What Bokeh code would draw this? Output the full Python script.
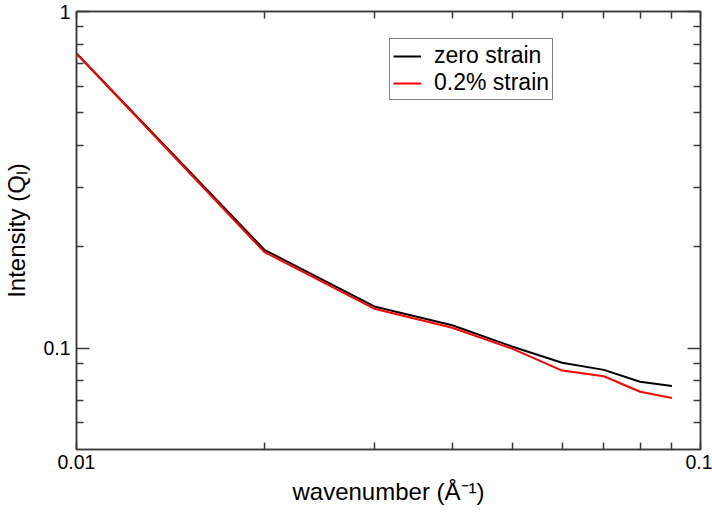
from bokeh.plotting import figure
from bokeh.models import Range1d, LogAxis, FixedTicker, CustomJSTickFormatter
from bokeh.embed import file_html
from bokeh.resources import INLINE

# ---- data ----
wavenumber = [0.01, 0.02, 0.03, 0.04, 0.05, 0.06, 0.07, 0.08, 0.09]
zero_strain = [0.750, 0.196, 0.133, 0.117, 0.101, 0.0905, 0.0862, 0.0795, 0.0772]
strain_0_2 = [0.750, 0.193, 0.131, 0.115, 0.0995, 0.0858, 0.0825, 0.0742, 0.0711]
series_labels = ["zero strain", "0.2% strain"]

x_major_ticks = [0.01, 0.1]
x_minor_ticks = [0.02, 0.03, 0.04, 0.05, 0.06, 0.07, 0.08, 0.09]
y_major_ticks = [0.1, 1.0]
y_minor_ticks = [0.06, 0.07, 0.08, 0.09, 0.2, 0.3, 0.4, 0.5, 0.6, 0.7, 0.8, 0.9]

x_title = "wavenumber (Å⁻¹)"
y_title = "Intensity (Qₗ)"

FONT = "Liberation Sans"
AX = "#3a3a3a"

p = figure(width=712, height=514, x_axis_type="log", y_axis_type="log",
           x_range=Range1d(0.01, 0.1), y_range=Range1d(0.05, 1.0),
           output_backend="svg", toolbar_location=None,
           min_border_left=72, min_border_right=12, min_border_top=11, min_border_bottom=65)
p.xgrid.visible = False
p.ygrid.visible = False
p.outline_line_color = AX
p.outline_line_width = 1.5
p.background_fill_color = "white"
p.border_fill_color = "white"

p.line(wavenumber, zero_strain, line_color="black", line_width=2, legend_label=series_labels[0])
p.line(wavenumber, strain_0_2, line_color="red", line_width=2, legend_label=series_labels[1])


def style_axis(ax, major, minor, major_len, show_labels):
    ax.ticker = FixedTicker(ticks=major, minor_ticks=minor)
    ax.major_tick_in = major_len
    ax.major_tick_out = 0
    ax.minor_tick_in = 7
    ax.minor_tick_out = 0
    ax.axis_line_color = AX
    ax.axis_line_width = 1.5
    ax.major_tick_line_color = AX
    ax.major_tick_line_width = 1.5
    ax.minor_tick_line_color = AX
    ax.minor_tick_line_width = 1.5
    if show_labels:
        ax.formatter = CustomJSTickFormatter(code="return String(tick)")
        ax.major_label_text_font = FONT
        ax.major_label_text_font_size = "19.5px"
        ax.major_label_text_color = "black"
        ax.axis_label_text_font = FONT
        ax.axis_label_text_font_size = "24px"
        ax.axis_label_text_font_style = "normal"
        ax.axis_label_text_color = "black"
    else:
        ax.formatter = CustomJSTickFormatter(code="return ''")
        ax.major_label_text_font_size = "0px"
        ax.major_label_standoff = 0


xb = p.xaxis[0]
style_axis(xb, x_major_ticks, x_minor_ticks, 7, True)
xb.major_label_standoff = 5
xb.axis_label = x_title
xb.axis_label_standoff = 6

yl = p.yaxis[0]
style_axis(yl, y_major_ticks, y_minor_ticks, 13, True)
yl.major_label_standoff = 6
yl.axis_label = y_title
yl.axis_label_standoff = 10

xt = LogAxis()
style_axis(xt, x_major_ticks, x_minor_ticks, 7, False)
p.add_layout(xt, "above")
yr = LogAxis()
style_axis(yr, y_major_ticks, y_minor_ticks, 13, False)
p.add_layout(yr, "right")

lg = p.legend[0]
lg.location = (313, 349)
lg.border_line_color = "black"
lg.border_line_width = 1.2
lg.background_fill_color = "white"
lg.background_fill_alpha = 1.0
lg.label_text_font = FONT
lg.label_text_font_size = "23px"
lg.label_text_color = "black"
lg.padding = 3
lg.margin = 0
lg.spacing = 0
lg.glyph_width = 28
lg.glyph_height = 20
lg.label_height = 20
lg.label_standoff = 13

open("out.html", "w").write(file_html(p, INLINE))
